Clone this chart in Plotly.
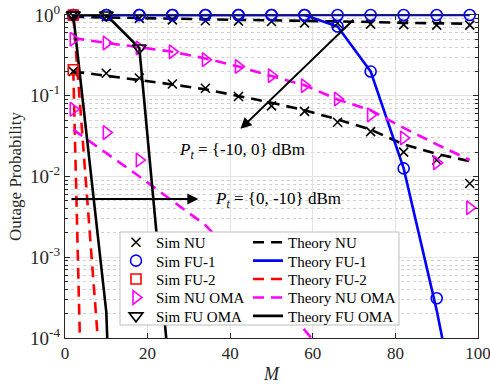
import plotly.graph_objects as go

# ---------------- data ----------------
M = [2, 10, 18, 26, 34, 42, 50, 58, 66, 74, 82, 90, 98]

# Scenario A : Pt = {-10, 0} dBm ; Scenario B : Pt = {0, -10} dBm
sim_nu_a = [0.97, 0.95, 0.91, 0.87, 0.85, 0.84, 0.83, 0.80, 0.79, 0.77, 0.76, 0.75, 0.75]
sim_nu_b = [0.2, 0.19, 0.166, 0.14, 0.124, 0.098, 0.075, 0.064, 0.047, 0.036, 0.02, 0.016, 0.0082]
th_nu_a = [0.95, 0.93, 0.91, 0.89, 0.88, 0.87, 0.86, 0.85, 0.83, 0.82, 0.80, 0.79, 0.78]
th_nu_b = [0.2, 0.178, 0.158, 0.138, 0.12, 0.1, 0.082, 0.066, 0.051, 0.038, 0.025, 0.019, 0.0155]

sim_fu1_a = [1, 1, 1, 1, 1, 1, 1, 1, 0.72, 0.2, 0.0126, 3.1e-4, None]
sim_fu1_b = [1, 1, 1, 1, 1, 1, 1, 1, 1, 1, 1, 1, 1]
th_fu1_a = [1, 1, 1, 1, 1, 1, 1, 1, 0.72, 0.2, 0.0126, 2.2e-4, 2e-6]
th_fu1_b = [1, 1, 1, 1, 1, 1, 1, 1, 1, 1, 1, 1, 1]

sim_fu2_a = [1.0, None, None, None, None, None, None, None, None, None, None, None, None]
sim_fu2_b = [0.21, None, None, None, None, None, None, None, None, None, None, None, None]
th_fu2_a = [1.0, 4e-6, None, None, None, None, None, None, None, None, None, None, None]
th_fu2_b = [0.21, 5e-18, None, None, None, None, None, None, None, None, None, None, None]

sim_nuoma_a = [0.5, 0.45, 0.39, 0.35, 0.28, 0.23, 0.177, 0.133, 0.091, 0.058, 0.030, 0.0148, 0.0041]
sim_nuoma_b = [0.068, 0.035, 0.016, None, None, None, None, None, None, None, None, None, None]
th_nuoma_a = [0.52, 0.45, 0.4, 0.35, 0.29, 0.23, 0.175, 0.135, 0.09, 0.066, 0.04, 0.025, 0.016]
th_nuoma_b = [0.038, 0.0195, 0.01, 0.005, 0.0025, 9.3e-4, 3.5e-4, 1.26e-4, 4e-5, None, None, None, None]

sim_fuoma_a = [1.0, 1.0, 0.39, None, None, None, None, None, None, None, None, None, None]
sim_fuoma_b = [1.0, None, None, None, None, None, None, None, None, None, None, None, None]
th_fuoma_a = [1.0, 1.0, 0.39, 1.5e-5, None, None, None, None, None, None, None, None, None]
th_fuoma_b = [1.0, 2.1e-4, 1e-15, None, None, None, None, None, None, None, None, None, None]

y_ticks = [1e-4, 1e-3, 1e-2, 1e-1, 1]
y_ticktext = ["10<sup>-4</sup>", "10<sup>-3</sup>", "10<sup>-2</sup>", "10<sup>-1</sup>", "10<sup>0</sup>"]
x_ticks = [0, 20, 40, 60, 80, 100]

label_a = "<i>P</i><sub><i>t</i></sub> = {-10, 0} dBm"
label_b = "<i>P</i><sub><i>t</i></sub> = {0, -10} dBm"

# ---------------- styles ----------------
FONT = "Liberation Serif, Times New Roman, serif"
BLACK = "#000000"
BLUE = "#0000ff"
RED = "#ff0000"
MAG = "#ff00ff"
LW = 2.6
DASH = "11px,7px"

W, H = 490, 387
L, R, T, B = 65, 12, 15, 49
pw, ph = W - L - R, H - T - B


def px2paper(px, py):
    return (px - L) / pw, (H - B - py) / ph


ROW0, ROWSTEP = 242.5, 18.4
fig = go.Figure()
legend_layout = {}
legend_font = dict(family=FONT, size=15, color="#000")


def add_legend(idx, col_px, row):
    key = "legend" if idx == 1 else f"legend{idx}"
    lx, ly = px2paper(col_px, ROW0 + ROWSTEP * row)
    legend_layout[key] = dict(x=lx, y=ly, xanchor="left", yanchor="middle",
                              bgcolor="rgba(0,0,0,0)", borderwidth=0,
                              font=legend_font, itemwidth=30)
    return "legend" if idx == 1 else f"legend{idx}"


def theory(name, ya, yb, color, dash, row):
    lg = add_legend(6 + row, 248, row)
    for i, y in enumerate([ya, yb]):
        fig.add_trace(go.Scatter(
            x=M, y=y, mode="lines", name=name, legend=lg,
            legendgroup=name, showlegend=(i == 0), connectgaps=False,
            line=dict(color=color, width=LW, dash=dash)))


def sim(name, ya, yb, color, symbol, size, row):
    lg = add_legend(1 + row, 116, row)
    for i, y in enumerate([ya, yb]):
        fig.add_trace(go.Scatter(
            x=M, y=y, mode="markers", name=name, legend=lg,
            legendgroup=name, showlegend=(i == 0), cliponaxis=False,
            marker=dict(symbol=symbol, size=size, color=color,
                        line=dict(color=color, width=1.6))))


# theory lines first (drawn under markers)
theory("Theory NU", th_nu_a, th_nu_b, BLACK, DASH, 0)
theory("Theory FU-1", th_fu1_a, th_fu1_b, BLUE, "solid", 1)
theory("Theory FU-2", th_fu2_a, th_fu2_b, RED, DASH, 2)
theory("Theory NU OMA", th_nuoma_a, th_nuoma_b, MAG, DASH, 3)
theory("Theory FU OMA", th_fuoma_a, th_fuoma_b, BLACK, "solid", 4)

sim("Sim NU", sim_nu_a, sim_nu_b, BLACK, "x-thin-open", 9, 0)
sim("Sim FU-1", sim_fu1_a, sim_fu1_b, BLUE, "circle-open", 11, 1)
sim("Sim FU-2", sim_fu2_a, sim_fu2_b, RED, "square-open", 10, 2)
sim("Sim NU OMA", sim_nuoma_a, sim_nuoma_b, MAG, "triangle-right-open", 12, 3)
sim("Sim FU OMA", sim_fuoma_a, sim_fuoma_b, BLACK, "triangle-down-open", 12, 4)

# legend frame
x0, y0 = px2paper(120, 325)
x1, y1 = px2paper(399, 232)
fig.add_shape(type="rect", xref="paper", yref="paper", x0=x0, y0=y0, x1=x1, y1=y1,
              fillcolor="white", line=dict(color="#bdbdbd", width=1), layer="above")

# arrows and labels
fig.add_annotation(x=42.5, y=-1.41, ax=70.2, ay=-0.04, xref="x", yref="y", axref="x", ayref="y",
                   text="", showarrow=True, arrowhead=2, arrowsize=1.1, arrowwidth=2, arrowcolor="#000")
fig.add_annotation(x=32.3, y=-2.28, ax=1.2, ay=-2.28, xref="x", yref="y", axref="x", ayref="y",
                   text="", showarrow=True, arrowhead=2, arrowsize=1.1, arrowwidth=2, arrowcolor="#000")
fig.add_annotation(x=27.0, y=-1.68, xref="x", yref="y", text=label_a, showarrow=False,
                   xanchor="left", yanchor="middle", font=dict(family=FONT, size=17, color="#000"))
fig.add_annotation(x=35.9, y=-2.29, xref="x", yref="y", text=label_b, showarrow=False,
                   xanchor="left", yanchor="middle", font=dict(family=FONT, size=17, color="#000"))

axis_common = dict(showline=True, linecolor="#262626", linewidth=1, mirror="ticks",
                   ticks="inside", ticklen=5, tickcolor="#262626", ticklabeloverflow="allow",
                   showgrid=True, gridcolor="#e3e3e3", gridwidth=1, zeroline=False)

fig.update_xaxes(range=[0, 100], tickvals=x_ticks,
                 tickfont=dict(family=FONT, size=17, color="#262626"),
                 title=dict(text="<i>M</i>", font=dict(family=FONT, size=18, color="#262626"), standoff=4),
                 **axis_common)
fig.update_yaxes(type="log", range=[-4, 0], tickvals=y_ticks, ticktext=y_ticktext,
                 tickfont=dict(family=FONT, size=19, color="#262626"),
                 title=dict(text="Outage Probability", font=dict(family=FONT, size=17, color="#262626"), standoff=4),
                 minor=dict(ticks="inside", ticklen=3, tickcolor="#262626", dtick="D1",
                            showgrid=True, gridcolor="#d0d0d0", griddash="dot", gridwidth=1),
                 **axis_common)

fig.update_layout(width=W, height=H,
                  margin=dict(l=L, r=R, t=T, b=B, autoexpand=False),
                  paper_bgcolor="white", plot_bgcolor="white", font=dict(family=FONT),
                  **legend_layout)

fig.write_html("out.html")
